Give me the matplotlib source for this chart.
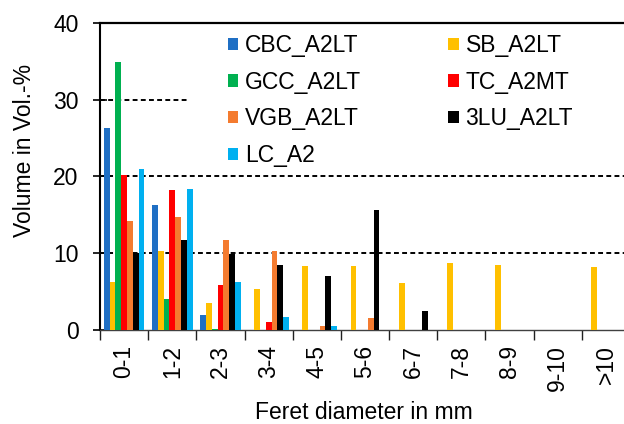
import matplotlib
matplotlib.use("Agg")
import matplotlib.pyplot as plt
import numpy as np

plt.rcParams['font.family'] = ['Liberation Sans', 'DejaVu Sans']

categories = ["0-1", "1-2", "2-3", "3-4", "4-5", "5-6", "6-7", "7-8", "8-9", "9-10", ">10"]
series_names = ["CBC_A2LT", "SB_A2LT", "GCC_A2LT", "TC_A2MT", "VGB_A2LT", "3LU_A2LT", "LC_A2"]
cbc = [26.3, 16.3, 2.0, 0, 0, 0, 0, 0, 0, 0, 0]
sb = [6.3, 10.3, 3.5, 5.4, 8.3, 8.3, 6.1, 8.7, 8.5, 0, 8.2]
gcc = [34.9, 4.0, 0.1, 0, 0, 0, 0, 0, 0, 0, 0]
tc = [20.2, 18.2, 5.8, 1.0, 0, 0, 0, 0, 0, 0, 0]
vgb = [14.2, 14.7, 11.7, 10.3, 0.5, 1.5, 0, 0, 0, 0, 0]
lu3 = [10.0, 11.7, 9.9, 8.5, 7.0, 15.6, 2.5, 0, 0, 0, 0]
lc = [20.9, 18.3, 6.3, 1.65, 0.5, 0, 0, 0, 0, 0, 0]
yticks = [0, 10, 20, 30, 40]

values = [cbc, sb, gcc, tc, vgb, lu3, lc]
colors = ["#1F6FC4", "#FFC000", "#00B050", "#FF0000", "#F47B2F", "#000000", "#00B0F0"]

FS = 16.5
W, H = 624, 424
fig = plt.figure(figsize=(W / 100, H / 100), dpi=100)
ax_left, ax_bottom = 100 / W, 1 - 330 / H
ax_w, ax_h = 530 / W, (330 - 22.7) / H
ax = fig.add_axes([ax_left, ax_bottom, ax_w, ax_h])

x = np.arange(len(categories))
n = len(values)
bw = 0.12
bars = []
for i, (name, vals, c) in enumerate(zip(series_names, values, colors)):
    offs = (i - (n - 1) / 2) * bw
    b = ax.bar(x + 0.5 + offs, vals, width=bw, color=c, label=name, zorder=3, linewidth=0)
    bars.append(b)

ax.set_xlim(0, len(categories))
ax.set_ylim(0, 40)

# gridlines
gl_kw = dict(color="black", linewidth=1.4, linestyle=(0, (2.5, 1.7)), zorder=1)
ax.axhline(10, **gl_kw)
ax.axhline(20, **gl_kw)
ax.axhline(30, xmin=0, xmax=(187 - 100) / 530, **gl_kw)

ax.spines["right"].set_visible(False)
ax.spines["top"].set_linewidth(1.6)
ax.spines["top"].set_color("black")
ax.spines["left"].set_linewidth(1.5)
ax.spines["bottom"].set_linewidth(1.0)
ax.spines["bottom"].set_color("#404040")

ax.set_yticks(yticks)
ax.set_yticklabels([str(v) for v in yticks])
ax.tick_params(axis="y", direction="inout", length=10, width=1.2, labelsize=FS, pad=10.5)
ax.set_xticks(np.arange(len(categories) + 1), minor=False)
ax.set_xticklabels([])
ax.set_xticks(x + 0.5, minor=True)
ax.set_xticklabels(categories, minor=True, rotation=90, fontsize=FS)
ax.tick_params(axis="x", which="major", direction="out", length=7, width=1.0, color="#202020")
ax.tick_params(axis="x", which="minor", length=0, pad=11)

ax.set_ylabel("Volume in Vol.-%", fontsize=FS)
ax.yaxis.set_label_coords((35.5 - 100) / 530, (330 - 150) / 307.3)
ax.set_xlabel("Feret diameter in mm", fontsize=FS)
ax.xaxis.set_label_coords(0.498, (330 - 401) / 307.3)

order = [0, 2, 4, 6, 1, 3, 5]
leg = fig.legend([bars[i] for i in order], [series_names[i] for i in order],
                 loc="upper left", bbox_to_anchor=(228 / W, 1 - 34 / H), ncol=2, frameon=False,
                 fontsize=FS, handlelength=0.45, handleheight=0.45, handletextpad=0.3,
                 columnspacing=3.8, labelspacing=0.6, borderpad=0, borderaxespad=0)

fig.savefig("out.png", dpi=100)
